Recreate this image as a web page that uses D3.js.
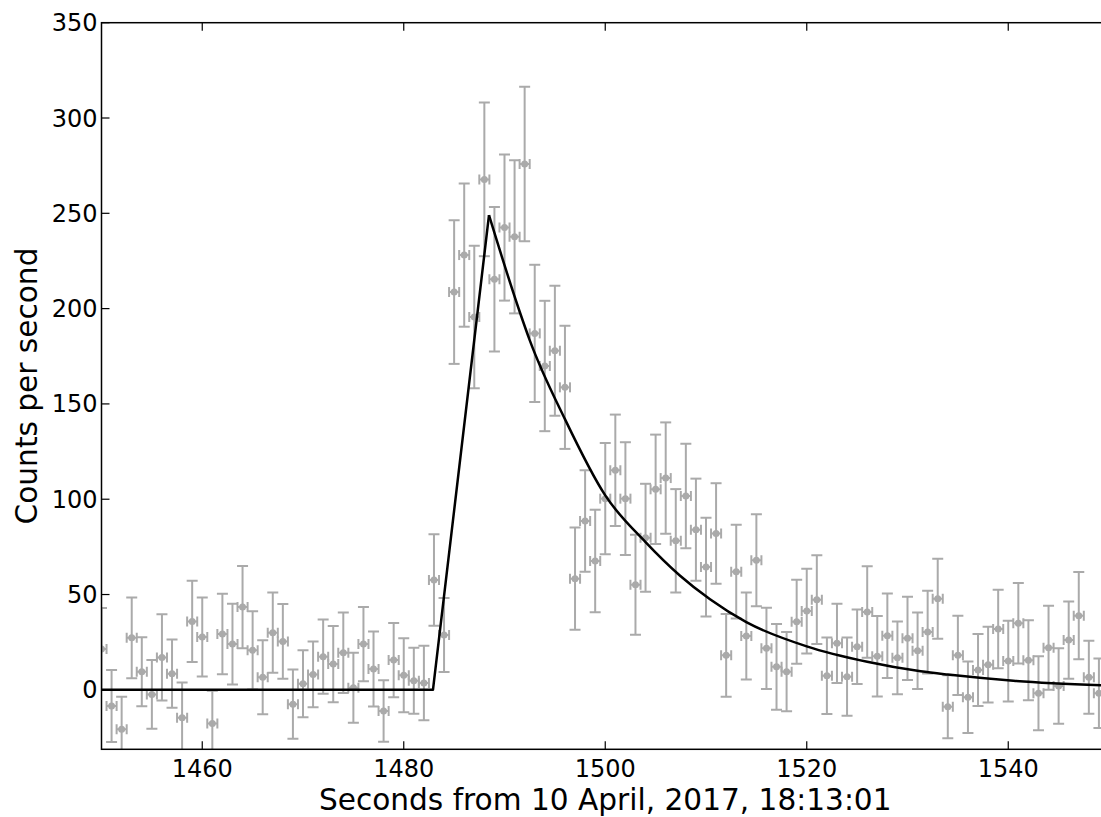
<!DOCTYPE html>
<html>
<head>
<meta charset="utf-8">
<script src="https://cdn.jsdelivr.net/npm/d3@7/dist/d3.min.js"></script>
<style>
	body { margin:0; background:white; }
	svg { display:block; }
</style>
</head>
<body>
<div id="chart"></div>
<script>
// bin times (s), count rate and its error
var seconds = [1450,1451,1452,1453,1454,1455,1456,1457,1458,1459,
	1460,1461,1462,1463,1464,1465,1466,1467,1468,1469,
	1470,1471,1472,1473,1474,1475,1476,1477,1478,1479,
	1480,1481,1482,1483,1484,1485,1486,1487,1488,1489,
	1490,1491,1492,1493,1494,1495,1496,1497,1498,1499,
	1500,1501,1502,1503,1504,1505,1506,1507,1508,1509,
	1510,1511,1512,1513,1514,1515,1516,1517,1518,1519,
	1520,1521,1522,1523,1524,1525,1526,1527,1528,1529,
	1530,1531,1532,1533,1534,1535,1536,1537,1538,1539,
	1540,1541,1542,1543,1544,1545,1546,1547,1548,1549]
var rate = [21.4,-8.5,-20.7,27.3,9.5,-2.4,17.0,8.5,-14.6,35.9,
	27.7,-17.6,29.3,24.0,43.4,20.7,6.6,30.0,25.4,-7.5,
	3.2,8.1,17.4,13.5,19.5,1.1,24.0,10.9,-11.1,15.6,
	7.6,4.8,3.6,57.6,28.8,208.7,228.1,195.6,267.8,215.4,
	242.5,237.7,275.9,187.0,169.9,177.9,158.7,58.3,88.6,67.6,
	100.3,115.2,100.3,55.1,79.8,105.2,111.1,78.2,101.7,84.0,
	64.4,82.0,18.1,62.0,28.2,68.0,21.8,12.1,9.5,35.7,
	41.3,47.3,7.4,24.4,6.9,22.6,40.8,17.6,28.4,16.8,
	27.0,20.5,30.3,47.8,-8.9,18.1,-3.9,10.4,13.2,31.9,
	15.1,34.9,15.5,-1.8,22.1,2.0,26.1,38.9,6.6,-1.8]
var rateErr = [21.5,18.9,17.1,21.2,18.1,18.0,22.6,17.9,18.4,21.3,
	20.7,17.1,21.1,21.2,21.6,20.5,19.4,21.1,19.6,18.2,
	17.6,17.3,19.5,20.0,21.1,18.4,19.5,19.7,16.1,19.5,
	19.4,17.3,19.5,24.0,19.4,37.7,37.6,37.4,40.3,37.9,
	38.3,40.2,40.5,36.0,34.2,34.1,32.3,26.8,26.6,26.9,
	29.2,29.2,29.6,26.2,28.3,28.7,29.2,27.1,27.4,26.8,
	25.9,26.4,21.7,24.6,22.8,24.1,21.3,22.5,20.8,22.0,
	22.2,23.3,20.1,20.8,20.5,19.6,24.0,21.1,22.2,19.1,
	21.8,20.1,21.7,21.0,16.5,20.8,18.8,18.9,19.9,20.6,
	21.2,21.1,21.0,19.4,22.0,19.8,20.3,22.9,19.2,18.2]
var binHalfWidth = 0.5

// fitted pulse: linear rise, then decay
var riseT = [1450, 1482.9, 1488.46]
var riseV = [0, 0, 249]
var decayT = [1488.46, 1491.5, 1492.5, 1496, 1500, 1504, 1507.4, 1510.4, 1514, 1520, 1526, 1531.3, 1534, 1540.5, 1550]
var decayV = [249, 198.5, 183.5, 142, 102, 77.5, 60, 47.5, 35.5, 22.8, 14.7, 9.7, 8, 4.8, 2.2]

var xTicks = [1460, 1480, 1500, 1520, 1540]
var yTicks = [0, 50, 100, 150, 200, 250, 300, 350]

var width = 1101, height = 817
var plot = {left:101.5, right:1109, top:22.7, bottom:749.3}
var grey = '#aaaaaa'
var font = 'DejaVu Sans, sans-serif'

var x = d3.scaleLinear().domain([1450, 1550]).range([plot.left, plot.right])
var y = d3.scaleLinear().domain([-31.2, 350]).range([plot.bottom, plot.top])

var svg = d3.select('#chart')
	.append('svg')
	.attr('width', width)
	.attr('height', height)

svg.append('defs')
	.append('clipPath')
	.attr('id', 'plot-clip')
	.append('rect')
	.attr('x', plot.left)
	.attr('y', plot.top)
	.attr('width', plot.right - plot.left)
	.attr('height', plot.bottom - plot.top)

var points = seconds.map(function(t, i) {
	return {t:t, v:rate[i], e:rateErr[i]}
})

var inner = svg.append('g').attr('clip-path', 'url(#plot-clip)')

var bars = inner.append('g')
	.attr('stroke', grey)
	.attr('stroke-width', 2)
	.attr('fill', grey)
	.selectAll('g')
	.data(points)
	.enter()
	.append('g')

// vertical error + caps
bars.append('line')
	.attr('x1', function(d){ return x(d.t) })
	.attr('x2', function(d){ return x(d.t) })
	.attr('y1', function(d){ return y(d.v - d.e) })
	.attr('y2', function(d){ return y(d.v + d.e) })
bars.selectAll('.ycap')
	.data(function(d){ return [[d.t, d.v - d.e], [d.t, d.v + d.e]] })
	.enter()
	.append('line')
	.attr('class', 'ycap')
	.attr('x1', function(d){ return x(d[0]) - 5.5 })
	.attr('x2', function(d){ return x(d[0]) + 5.5 })
	.attr('y1', function(d){ return y(d[1]) })
	.attr('y2', function(d){ return y(d[1]) })
// horizontal error + caps
bars.append('line')
	.attr('x1', function(d){ return x(d.t - binHalfWidth) })
	.attr('x2', function(d){ return x(d.t + binHalfWidth) })
	.attr('y1', function(d){ return y(d.v) })
	.attr('y2', function(d){ return y(d.v) })
bars.selectAll('.xcap')
	.data(function(d){ return [[d.t - binHalfWidth, d.v], [d.t + binHalfWidth, d.v]] })
	.enter()
	.append('line')
	.attr('class', 'xcap')
	.attr('x1', function(d){ return x(d[0]) })
	.attr('x2', function(d){ return x(d[0]) })
	.attr('y1', function(d){ return y(d[1]) - 5 })
	.attr('y2', function(d){ return y(d[1]) + 5 })
bars.append('circle')
	.attr('cx', function(d){ return x(d.t) })
	.attr('cy', function(d){ return y(d.v) })
	.attr('r', 3.5)
	.attr('stroke', 'none')

// fit line
var rise = riseT.map(function(t, i){ return [t, riseV[i]] })
var decay = decayT.map(function(t, i){ return [t, decayV[i]] })
var fitLine = d3.line()
	.x(function(d){ return x(d[0]) })
	.y(function(d){ return y(d[1]) })
inner.append('path')
	.datum(rise)
	.attr('d', fitLine)
	.attr('fill', 'none')
	.attr('stroke', 'black')
	.attr('stroke-width', 2.5)
	.attr('stroke-linejoin', 'round')
inner.append('path')
	.datum(decay)
	.attr('d', fitLine.curve(d3.curveMonotoneX))
	.attr('fill', 'none')
	.attr('stroke', 'black')
	.attr('stroke-width', 2.5)

// frame and inward ticks (classic style)
svg.append('rect')
	.attr('x', plot.left)
	.attr('y', plot.top)
	.attr('width', plot.right - plot.left)
	.attr('height', plot.bottom - plot.top)
	.attr('fill', 'none')
	.attr('stroke', 'black')
	.attr('stroke-width', 1.5)

var ticks = svg.append('g').attr('stroke', 'black').attr('stroke-width', 1.2)
xTicks.forEach(function(t){
	ticks.append('line')
		.attr('x1', x(t)).attr('x2', x(t))
		.attr('y1', plot.bottom).attr('y2', plot.bottom - 8)
	ticks.append('line')
		.attr('x1', x(t)).attr('x2', x(t))
		.attr('y1', plot.top).attr('y2', plot.top + 8)
})
yTicks.forEach(function(v){
	ticks.append('line')
		.attr('x1', plot.left).attr('x2', plot.left + 8)
		.attr('y1', y(v)).attr('y2', y(v))
})

svg.append('g')
	.selectAll('text')
	.data(xTicks)
	.enter()
	.append('text')
	.attr('x', function(d){ return x(d) })
	.attr('y', 776.5)
	.attr('text-anchor', 'middle')
	.style('font-family', font)
	.style('font-size', '24px')
	.text(function(d){ return d })

svg.append('g')
	.selectAll('text')
	.data(yTicks)
	.enter()
	.append('text')
	.attr('x', 97.5)
	.attr('y', function(d){ return y(d) + 8.5 })
	.attr('text-anchor', 'end')
	.style('font-family', font)
	.style('font-size', '24px')
	.text(function(d){ return d })

svg.append('text')
	.attr('x', (plot.left + plot.right) / 2)
	.attr('y', 810)
	.attr('text-anchor', 'middle')
	.style('font-family', font)
	.style('font-size', '29.6px')
	.text('Seconds from 10 April, 2017, 18:13:01')

svg.append('text')
	.attr('transform', 'translate(37,' + (plot.top + plot.bottom) / 2 + ') rotate(-90)')
	.attr('text-anchor', 'middle')
	.style('font-family', font)
	.style('font-size', '29.6px')
	.text('Counts per second')
</script>
</body>
</html>
